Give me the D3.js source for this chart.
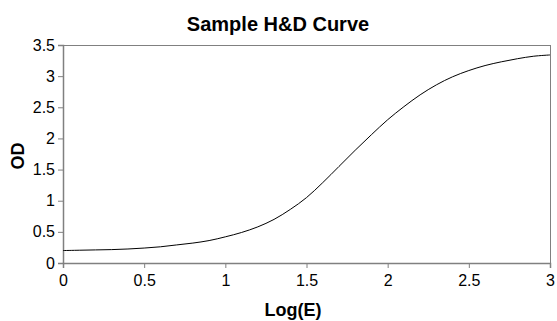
<!DOCTYPE html>
<html>
<head>
<meta charset="utf-8">
<script src="https://cdn.jsdelivr.net/npm/d3@7"></script>
<style>
  body { margin: 0; background: #fff; }
  svg text { font-family: "Liberation Sans", Arial, sans-serif; }
</style>
</head>
<body>
<div id="chart"></div>
<script>
// 数据: Log(E) 和 OD
let logE = [0, 0.1, 0.2, 0.3, 0.4, 0.5, 0.6, 0.7, 0.8, 0.9,
    1.0, 1.1, 1.2, 1.3, 1.4, 1.5, 1.6, 1.7, 1.8, 1.9,
    2.0, 2.1, 2.2, 2.3, 2.4, 2.5, 2.6, 2.7, 2.8, 2.9, 3.0];
let od = [0.20, 0.205, 0.21, 0.215, 0.225, 0.24, 0.26, 0.29, 0.32, 0.36,
    0.42, 0.49, 0.58, 0.70, 0.86, 1.05, 1.29, 1.55, 1.81, 2.06,
    2.30, 2.51, 2.70, 2.86, 2.99, 3.09, 3.17, 3.23, 3.28, 3.32, 3.34];
let xTicks = [0, 0.5, 1, 1.5, 2, 2.5, 3];
let yTicks = [0, 0.5, 1, 1.5, 2, 2.5, 3, 3.5];

let W = 557, H = 321;
let margin = {left: 63, right: 7, top: 45, bottom: 58};
let gW = W - margin.left - margin.right;
let gH = H - margin.top - margin.bottom;

let svg = d3.select('#chart').append('svg')
    .attr('width', W)
    .attr('height', H);

let g = svg.append('g').attr('transform', 'translate(' + margin.left + ',' + margin.top + ')');

let xScale = d3.scaleLinear().domain([0, 3]).range([0, gW]);
let yScale = d3.scaleLinear().domain([0, 3.5]).range([gH, 0]);

//绘图区边框
g.append('rect')
    .attr('x', 0.5)
    .attr('y', 0.5)
    .attr('width', gW)
    .attr('height', gH)
    .attr('fill', 'none')
    .attr('stroke', '#808080');

//坐标轴
let xAxis = g.append('g')
    .attr('transform', 'translate(0,' + gH + ')')
    .call(d3.axisBottom(xScale).tickValues(xTicks).tickSize(5).tickPadding(7)
        .tickFormat(d3.format('')));
let yAxis = g.append('g')
    .call(d3.axisLeft(yScale).tickValues(yTicks).tickSize(5).tickPadding(3)
        .tickFormat(d3.format('')));

[xAxis, yAxis].forEach(function (a) {
    a.select('.domain').attr('stroke', '#808080').attr('stroke-width', 1.5);
    a.selectAll('.tick line').attr('stroke', '#808080');
    a.selectAll('.tick text')
        .attr('fill', '#000')
        .style('font-family', '"Liberation Sans", Arial, sans-serif')
        .style('font-size', '16px');
});

//曲线
let line = d3.line()
    .x(function (d, i) { return xScale(logE[i]); })
    .y(function (d) { return yScale(d); })
    .curve(d3.curveCatmullRom);

g.append('path')
    .datum(od)
    .attr('d', line)
    .attr('fill', 'none')
    .attr('stroke', '#000')
    .attr('stroke-width', 1);

//标题
svg.append('text')
    .attr('x', 278)
    .attr('y', 31)
    .attr('text-anchor', 'middle')
    .style('font-size', '20px')
    .style('font-weight', 'bold')
    .text('Sample H&D Curve');

svg.append('text')
    .attr('x', 293)
    .attr('y', 316)
    .attr('text-anchor', 'middle')
    .style('font-size', '18px')
    .style('font-weight', 'bold')
    .text('Log(E)');

svg.append('text')
    .attr('transform', 'translate(24,156) rotate(-90)')
    .attr('text-anchor', 'middle')
    .style('font-size', '18px')
    .style('font-weight', 'bold')
    .text('OD');
</script>
</body>
</html>
